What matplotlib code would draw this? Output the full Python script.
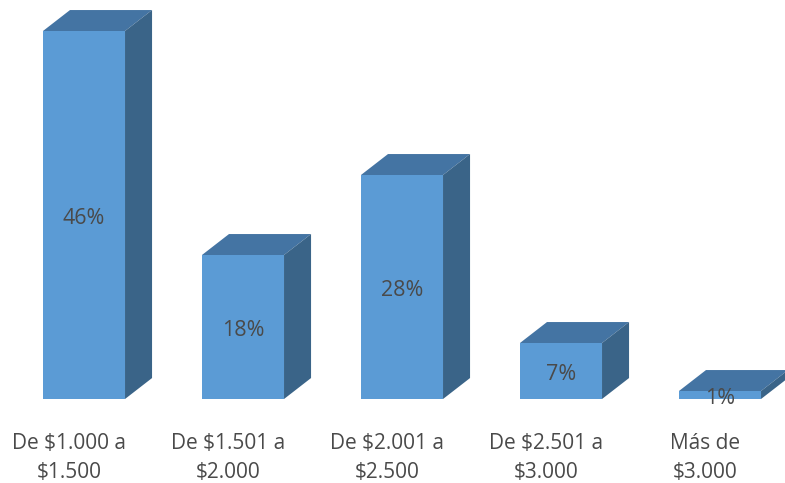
import matplotlib
matplotlib.use('Agg')
import matplotlib.pyplot as plt
from matplotlib.patches import Polygon

#==============================================================================
# data
#==============================================================================

Categories = ['De $1.000 a\n$1.500', 'De $1.501 a\n$2.000', 'De $2.001 a\n$2.500',
              'De $2.501 a\n$3.000', 'Más de\n$3.000']
Values     = [46, 18, 28, 7, 1]
Labels     = ['46%', '18%', '28%', '7%', '1%']

#==============================================================================
# style
#==============================================================================

FrontColor = '#5b9bd5'
TopColor   = '#4474a3'
SideColor  = '#3a6488'
TextColor  = '#4a4a4a'

plt.rcParams['font.family'] = ['Open Sans', 'DejaVu Sans']

Width = 0.516   # bar width in category units
DepthX = 0.17   # 3d depth, category units
DepthY = 2.62   # 3d depth, percent units

#==============================================================================
# plot
#==============================================================================

fig = plt.figure(figsize=(7.85, 4.83), dpi=100)
ax = fig.add_axes([0, 0, 1, 1])
ax.set_xlim(-84 / 159, (785 - 84) / 159)
ax.set_ylim(-84 / 8, 399 / 8)
ax.axis('off')

X = list(range(len(Values)))
ax.bar(X, Values, width=Width, color=FrontColor, zorder=3)

for x, v, lab, cat in zip(X, Values, Labels, Categories):
  l, r = x - Width / 2, x + Width / 2
  top = Polygon([(l, v), (r, v), (r + DepthX, v + DepthY), (l + DepthX, v + DepthY)],
                closed=True, facecolor=TopColor, edgecolor='none', zorder=2)
  side = Polygon([(r, 0), (r + DepthX, DepthY), (r + DepthX, v + DepthY), (r, v)],
                 closed=True, facecolor=SideColor, edgecolor='none', zorder=2)
  ax.add_patch(top)
  ax.add_patch(side)
  ax.text(x, v / 2 - 1.1, lab, ha='center', va='baseline', fontsize=15.5,
          color=TextColor, zorder=4)
  line1, line2 = cat.split('\n')
  ax.text(x - 0.095, -6.25, line1, ha='center', va='baseline', fontsize=15, color=TextColor)
  ax.text(x - 0.095, -9.875, line2, ha='center', va='baseline', fontsize=15, color=TextColor)

fig.savefig('out.png', dpi=100)
